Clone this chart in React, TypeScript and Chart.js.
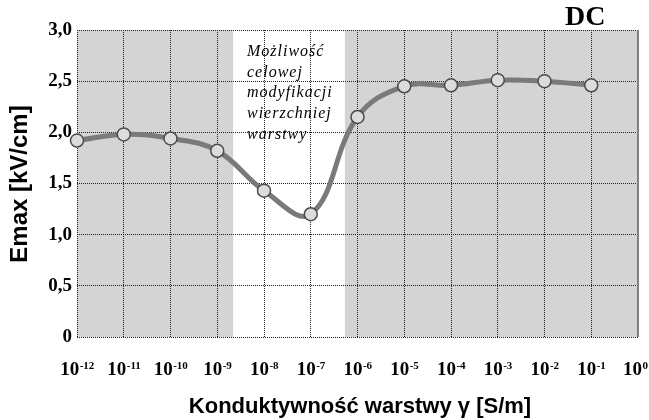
import React, { useEffect, useRef } from 'react';
import { Chart, registerables } from 'chart.js';

Chart.register(...registerables);

// conductivity exponents (10^n S/m) of the measured points
const exponents = [-12, -11, -10, -9, -8, -7, -6, -5, -4, -3, -2, -1];
// Emax [kV/cm]
const emax = [1.92, 1.98, 1.94, 1.82, 1.43, 1.2, 2.15, 2.45, 2.46, 2.51, 2.5, 2.46];
// x tick exponents shown as 10^n
const xTickExponents = [-12, -11, -10, -9, -8, -7, -6, -5, -4, -3, -2, -1, 0];
const yTickValues = [0, 0.5, 1, 1.5, 2, 2.5, 3];
const yTickLabels = ['0', '0,5', '1,0', '1,5', '2,0', '2,5', '3,0'];
// shaded (grey) ranges of the x axis, in exponent units
const shadedBands: [number, number][] = [[-12, -8.66], [-6.27, 0]];
const noteLines = ['Możliwość', 'celowej', 'modyfikacji', 'wierzchniej', 'warstwy'];
const titleText = 'DC';
const yTitle = 'Emax [kV/cm]';
const xTitle = 'Konduktywność warstwy γ [S/m]';

const SERIF = '"Liberation Serif", "DejaVu Serif", serif';
const SANS = '"Liberation Sans", Arial, sans-serif';

const decorPlugin = {
  id: 'decor',
  beforeDraw(chart: any) {
    const { ctx, chartArea, scales } = chart;
    const x = scales.x;
    ctx.save();
    ctx.fillStyle = '#d4d4d4';
    for (const [a, b] of shadedBands) {
      const x0 = x.getPixelForValue(a);
      const x1 = x.getPixelForValue(b);
      ctx.fillRect(x0, chartArea.top, x1 - x0, chartArea.bottom - chartArea.top);
    }
    ctx.restore();
  },
  afterDraw(chart: any) {
    const { ctx, chartArea, scales } = chart;
    const x = scales.x;
    const y = scales.y;
    ctx.save();
    // right border
    ctx.strokeStyle = '#808080';
    ctx.lineWidth = 2;
    ctx.beginPath();
    ctx.moveTo(chartArea.right, chartArea.top);
    ctx.lineTo(chartArea.right, chartArea.bottom);
    ctx.stroke();

    ctx.fillStyle = '#000';
    // y tick labels
    ctx.font = `bold 19px ${SERIF}`;
    ctx.textAlign = 'right';
    ctx.textBaseline = 'middle';
    yTickValues.forEach((v, i) => {
      ctx.fillText(yTickLabels[i], chartArea.left - 5, y.getPixelForValue(v));
    });

    // x tick labels: 10^n
    ctx.textBaseline = 'alphabetic';
    ctx.textAlign = 'left';
    xTickExponents.forEach((n) => {
      const px = x.getPixelForValue(n);
      ctx.font = `bold 19px ${SERIF}`;
      const wb = ctx.measureText('10').width;
      ctx.font = `bold 11px ${SERIF}`;
      const sup = n === 0 ? '0' : '-' + Math.abs(n);
      const ws = ctx.measureText(sup).width;
      let left = px - (wb + ws) / 2;
      const maxRight = chart.width - 1;
      if (left + wb + ws + 0.5 > maxRight) left = maxRight - wb - ws - 0.5;
      ctx.font = `bold 19px ${SERIF}`;
      ctx.fillText('10', left, chartArea.bottom + 38);
      ctx.font = `bold 11px ${SERIF}`;
      ctx.fillText(sup, left + wb + 0.5, chartArea.bottom + 32);
    });

    // axis titles
    ctx.font = `bold 22px ${SANS}`;
    ctx.textAlign = 'center';
    ctx.fillText(xTitle, 360, 413);

    ctx.save();
    ctx.translate(27, 184);
    ctx.rotate(-Math.PI / 2);
    ctx.font = `bold 24px ${SANS}`;
    ctx.textAlign = 'center';
    ctx.fillText(yTitle, 0, 0);
    ctx.restore();

    // DC
    ctx.font = `bold 28px ${SERIF}`;
    ctx.textAlign = 'left';
    ctx.fillText(titleText, 565, 25);

    // note in the white band
    ctx.font = `italic 16px ${SERIF}`;
    (ctx as any).letterSpacing = '1px';
    ctx.textAlign = 'left';
    noteLines.forEach((t, i) => {
      ctx.fillText(t, 247, 56 + i * 20.7);
    });
    ctx.restore();
  },
};

export default function App() {
  const ref = useRef<HTMLCanvasElement>(null);
  useEffect(() => {
    document.body.style.margin = '0';
    const canvas = ref.current;
    if (!canvas) return;
    const chart = new Chart(canvas, {
      type: 'line',
      data: {
        datasets: [
          {
            data: exponents.map((e, i) => ({ x: e, y: emax[i] })),
            borderColor: '#7a7a7a',
            borderWidth: 5,
            tension: 0.4,
            pointRadius: 6.5,
            pointBackgroundColor: '#dcdcdc',
            pointBorderColor: '#4a4a4a',
            pointBorderWidth: 1.5,
            clip: false as any,
          },
        ],
      },
      options: {
        responsive: false,
        animation: false,
        events: [],
        layout: { padding: { left: 77, right: 11, top: 30, bottom: 83 } },
        plugins: { legend: { display: false }, tooltip: { enabled: false } },
        scales: {
          x: {
            type: 'linear',
            min: -12,
            max: 0,
            ticks: { display: false, stepSize: 1 },
            grid: { color: '#222', lineWidth: 1, drawTicks: false },
            border: { display: false, dash: [1, 1] },
          },
          y: {
            type: 'linear',
            min: 0,
            max: 3,
            ticks: { display: false, stepSize: 0.5 },
            grid: { color: '#222', lineWidth: 1, drawTicks: false },
            border: { display: false, dash: [1, 1] },
          },
        },
      },
      plugins: [decorPlugin],
    });
    return () => chart.destroy();
  }, []);
  return (
    <div style={{ width: 649, height: 420 }}>
      <canvas ref={ref} width={649} height={420} style={{ display: 'block' }} />
    </div>
  );
}
